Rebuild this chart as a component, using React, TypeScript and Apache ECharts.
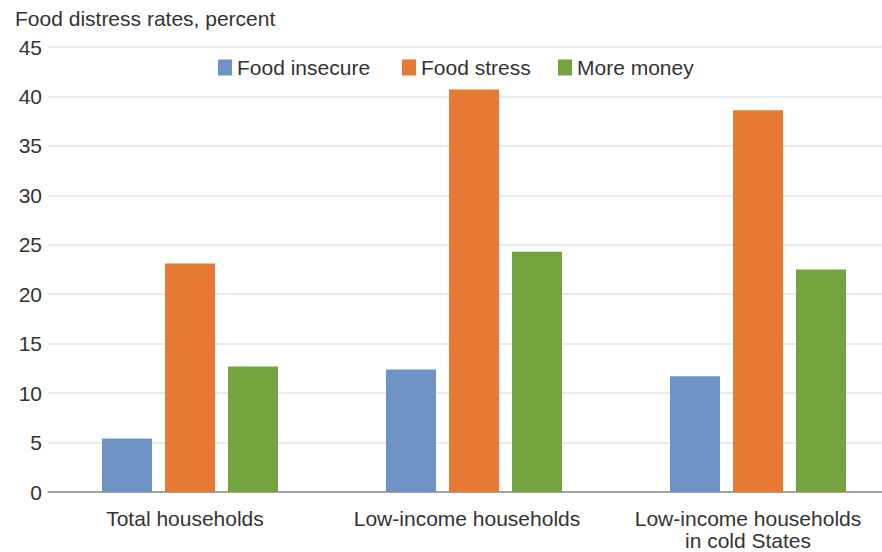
import React, { useEffect, useRef } from "react";
import * as echarts from "echarts";

const categories = [
  "Total households",
  "Low-income households",
  "Low-income households\nin cold States",
];
const seriesNames = ["Food insecure", "Food stress", "More money"];
const foodInsecure = [5.4, 12.4, 11.7];
const foodStress = [23.1, 40.7, 38.6];
const moreMoney = [12.7, 24.3, 22.5];
const yTicks = [0, 5, 10, 15, 20, 25, 30, 35, 40, 45];
const colors = ["#7093c6", "#e67a35", "#74a33f"];

const FONT = "'Liberation Sans', Arial, Helvetica, sans-serif";
const legendLefts = [213, 397, 553];
const labelShift = [5, 7, 10];

export default function App() {
  const ref = useRef<HTMLDivElement>(null);
  useEffect(() => {
    if (!ref.current) return;
    const chart = echarts.init(ref.current, undefined, { renderer: "svg" });
    const values = [foodInsecure, foodStress, moreMoney];
    const rich: Record<string, any> = {};
    labelShift.forEach((s, i) => {
      rich["a" + i] = {
        fontFamily: FONT,
        fontSize: 21,
        color: "#333333",
        lineHeight: 30,
        padding: [0, 2 * s, 0, 0],
      };
      rich["b" + i] = {
        fontFamily: FONT,
        fontSize: 21,
        color: "#333333",
        lineHeight: 14,
        padding: [0, 2 * s, 0, 0],
      };
    });
    chart.setOption({
      animation: false,
      backgroundColor: "#ffffff",
      textStyle: { fontFamily: FONT },
      title: {
        text: "Food distress rates, percent",
        left: 10,
        top: 3,
        textStyle: { fontFamily: FONT, fontSize: 21, fontWeight: "normal", color: "#333333" },
      },
      legend: seriesNames.map((name, i) => ({
        left: legendLefts[i],
        top: 52,
        itemWidth: 14,
        itemHeight: 16,
        itemGap: 0,
        icon: "rect",
        textStyle: { fontFamily: FONT, fontSize: 21, color: "#333333" },
        data: [name],
      })),
      grid: {
        left: 48,
        top: 47,
        width: 852,
        height: 445,
        containLabel: false,
        outerBoundsMode: "none",
      },
      xAxis: {
        type: "category",
        data: categories,
        axisLine: { show: true, lineStyle: { color: "#8a8a8a", width: 1.5 } },
        axisTick: { show: false },
        axisLabel: {
          fontFamily: FONT,
          fontSize: 21,
          color: "#333333",
          margin: 11,
          interval: 0,
          formatter: (value: string, idx: number) =>
            value
              .split("\n")
              .map((line, li) => `{${li === 0 ? "a" : "b"}${idx}|${line}}`)
              .join("\n"),
          rich,
        },
      },
      yAxis: {
        type: "value",
        min: yTicks[0],
        max: yTicks[yTicks.length - 1],
        interval: 5,
        axisLine: { show: false },
        axisTick: { show: false },
        axisLabel: { fontFamily: FONT, fontSize: 21, color: "#333333", margin: 6 },
        splitLine: { show: true, lineStyle: { color: "#e4e4e4", width: 1.5 } },
      },
      series: seriesNames.map((name, i) => ({
        name,
        type: "bar",
        data: values[i],
        barWidth: 50,
        barGap: "26%",
        itemStyle: { color: colors[i] },
      })),
    });
    return () => chart.dispose();
  }, []);
  return (
    <div
      ref={ref}
      style={{ position: "fixed", left: 0, top: 0, width: 882, height: 552 }}
    />
  );
}
